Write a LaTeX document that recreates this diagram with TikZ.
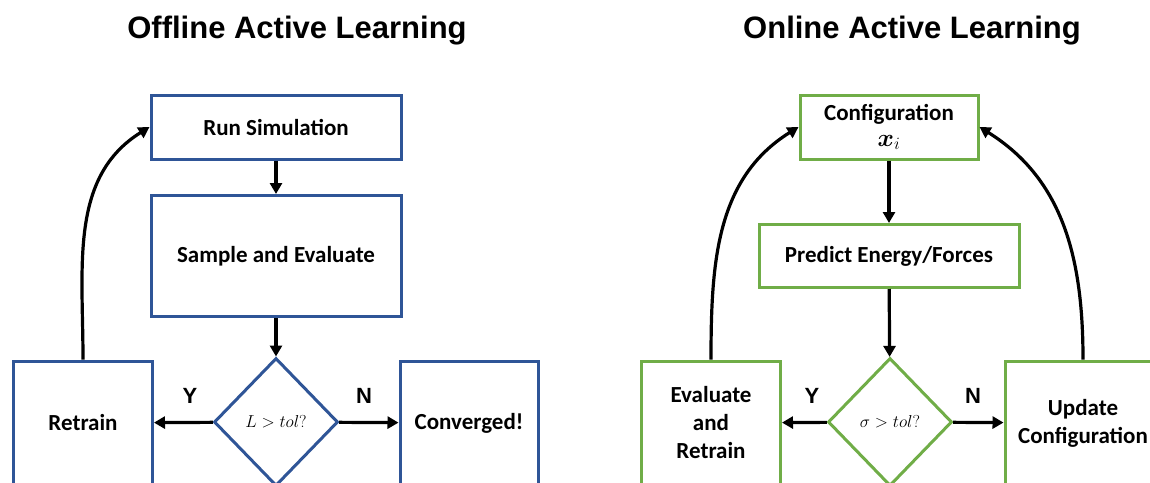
\documentclass[tikz,border=0pt]{standalone}
\usepackage{fontspec}
\usepackage{bm}
\setmainfont{Carlito}
\newfontfamily\headfont{Liberation Sans}
\usetikzlibrary{shapes.geometric,arrows.meta}
\definecolor{offblue}{HTML}{2F5597}
\definecolor{ongreen}{HTML}{70AD47}

\begin{document}
\begin{tikzpicture}[x=1pt,y=-1pt,
  box/.style={draw,line width=3pt,align=center,inner sep=2pt,font=\fontsize{23}{28}\selectfont\bfseries},
  decision/.style={diamond,draw,line width=3pt,inner sep=0pt,minimum width=124pt,minimum height=128pt,font=\fontsize{17}{20}\selectfont},
  link/.style={line width=3.2pt,-{Triangle[length=11pt,width=12pt]}},
  yn/.style={font=\headfont\bfseries\fontsize{22}{26}\selectfont},
  heading/.style={font=\headfont\bfseries\fontsize{31}{36}\selectfont}]
\path[use as bounding box] (0,0) rectangle (1150,482);

\node[heading] (offtitle) at (297,31) {Offline Active Learning};
\node[box,draw=offblue,minimum width=250pt,minimum height=64pt] (run) at (276,127) {Run Simulation};
\node[box,draw=offblue,minimum width=250pt,minimum height=121pt] (sample) at (276,256) {Sample and Evaluate};
\node[decision,draw=offblue] (lcheck) at (276,422) {$L > tol?$};
\node[box,draw=offblue,minimum width=139pt,minimum height=124pt] (retrain) at (83,423) {Retrain};
\node[box,draw=offblue,minimum width=138pt,minimum height=124pt] (conv) at (469,423) {Converged!};
\node[yn] (ly) at (190,396) {Y};
\node[yn] (ln) at (364,396) {N};
\draw[link] (run) -- (sample);
\draw[link] (sample) -- (lcheck);
\draw[link] (lcheck) -- (retrain);
\draw[link] (lcheck) -- (conv);
\draw[link] (retrain.north) to[out=90,in=212] (run.west);

\node[heading] (ontitle) at (912,31) {Online Active Learning};
\node[box,draw=ongreen,minimum width=178pt,minimum height=64pt] (config) at (889,127) {Configuration\\[-2pt]$\bm{x}_i$};
\node[box,draw=ongreen,minimum width=260pt,minimum height=63pt] (predict) at (889,256) {Predict Energy/Forces};
\node[decision,draw=ongreen] (scheck) at (890,422) {$\sigma > tol?$};
\node[box,draw=ongreen,minimum width=139pt,minimum height=124pt] (evalr) at (711,423) {Evaluate\\and\\Retrain};
\node[box,draw=ongreen,minimum width=156pt,minimum height=124pt] (update) at (1083,423) {Update\\Configuration};
\node[yn] (ry) at (812,396) {Y};
\node[yn] (rn) at (973,396) {N};
\draw[link] (config) -- (predict);
\draw[link] (predict) -- (scheck);
\draw[link] (scheck) -- (evalr);
\draw[link] (scheck) -- (update);
\draw[link] (evalr.north) to[out=90,in=212] (config.west);
\draw[link] (update.north) to[out=90,in=-32] (config.east);
\end{tikzpicture}
\end{document}
